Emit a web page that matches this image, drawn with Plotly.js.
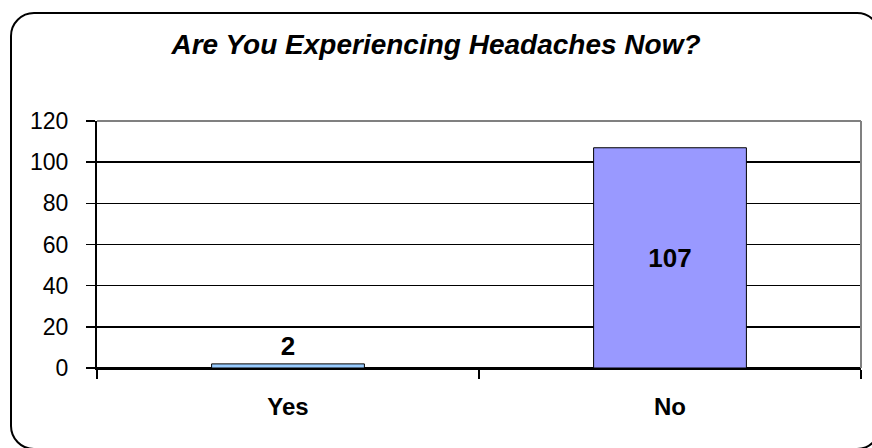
<!DOCTYPE html>
<html><head><meta charset="utf-8">
<script src="https://cdn.plot.ly/plotly-3.0.1.min.js"></script>
<style>
body{margin:0;background:#fff;overflow:hidden;}
#wrap{position:relative;width:872px;height:448px;overflow:hidden;}
#chart{position:absolute;left:0;top:0;width:872px;height:448px;}
#frame{position:absolute;left:10px;top:12px;width:867px;height:434px;border:2px solid #000;border-radius:24px;pointer-events:none;}
</style></head>
<body>
<div id="wrap"><div id="chart"></div><div id="frame"></div></div>
<script>
const categories = ["Yes", "No"];
const values = [2, 107];
const barColors = ["#99CCFF", "#9999FF"];
const yTicks = [0, 20, 40, 60, 80, 100, 120];
const chartTitle = "Are You Experiencing Headaches Now?";

const FONT = "Liberation Sans, Arial, sans-serif";
const trace = {
  type: "bar",
  x: categories,
  y: values,
  width: 0.4,
  marker: {color: barColors, line: {color: "#000", width: 1}},
  text: values.map(String),
  textposition: ["outside", "inside"],
  insidetextanchor: "middle",
  textangle: 0,
  cliponaxis: false,
  textfont: {family: FONT, size: 26, color: "#000", weight: "bold"},
  hoverinfo: "none"
};
const layout = {
  width: 872, height: 448,
  margin: {l: 97, r: 11, t: 121, b: 80},
  paper_bgcolor: "rgba(0,0,0,0)",
  plot_bgcolor: "#fff",
  showlegend: false,
  title: {text: "<b><i>" + chartTitle + "</i></b>", font: {family: FONT, size: 28, color: "#000"},
          x: 0.5, xanchor: "center", y: 1 - 44/448, yanchor: "middle"},
  xaxis: {
    type: "category", showgrid: false, zeroline: false,
    showline: true, linecolor: "#000", linewidth: 1.5,
    ticks: "outside", tickson: "boundaries", ticklen: 9, tickcolor: "#000", tickwidth: 1.5,
    tickfont: {family: FONT, size: 24, color: "#000", weight: "bold"},
    ticklabelstandoff: 17
  },
  yaxis: {
    range: [0, 120], tickvals: yTicks, ticktext: yTicks.map(String),
    showgrid: true, gridcolor: "#000", gridwidth: 1.5,
    zeroline: true, zerolinecolor: "#000", zerolinewidth: 1.5,
    showline: true, linecolor: "#000", linewidth: 2,
    ticks: "outside", ticklen: 9, tickcolor: "#000", tickwidth: 1.5,
    tickfont: {family: FONT, size: 23, color: "#000"},
    ticklabelstandoff: 13
  },
  bargap: 0.6,
  shapes: [
    {type: "line", xref: "paper", yref: "paper", x0: 0, x1: 1, y0: 1, y1: 1, line: {color: "#808080", width: 2}},
    {type: "line", xref: "paper", yref: "paper", x0: 1, x1: 1, y0: 0, y1: 1, line: {color: "#808080", width: 2}}
  ]
};
Plotly.newPlot("chart", [trace], layout, {displayModeBar: false, staticPlot: true});
</script>
</body></html>
